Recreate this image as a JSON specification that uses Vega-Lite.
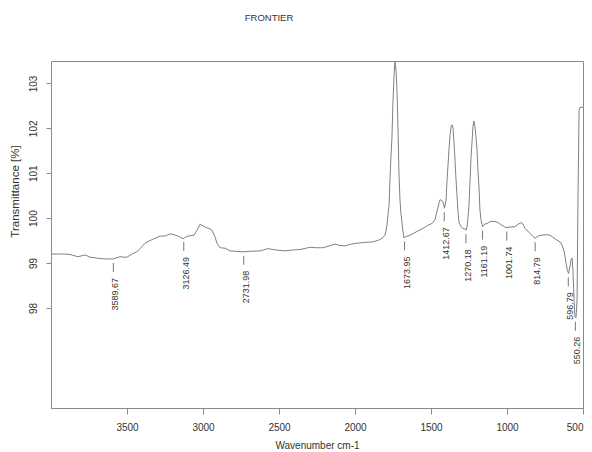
{
  "$schema": "https://vega.github.io/schema/vega-lite/v6.json",
  "autosize": {"type": "none"},
  "padding": {"left": 51, "top": 61, "right": 9, "bottom": 44},
  "width": 532,
  "height": 347,
  "background": "white",
  "config": {
    "font": "Liberation Sans",
    "view": {"stroke": "#8a8a8a", "strokeWidth": 1}
  },
  "title": {
    "text": "FRONTIER",
    "fontSize": 9.5,
    "fontWeight": "normal",
    "color": "#333333",
    "anchor": "middle",
    "dx": -48,
    "baseline": "alphabetic",
    "offset": 31
  },
  "datasets": {
    "spectrum": [
      {"wn": 4000, "t": 99.20}, {"wn": 3954, "t": 99.20}, {"wn": 3908, "t": 99.20}, {"wn": 3875, "t": 99.19},
      {"wn": 3855, "t": 99.17}, {"wn": 3822, "t": 99.14}, {"wn": 3776, "t": 99.18}, {"wn": 3743, "t": 99.13},
      {"wn": 3678, "t": 99.10}, {"wn": 3632, "t": 99.09}, {"wn": 3592, "t": 99.09}, {"wn": 3546, "t": 99.14},
      {"wn": 3520, "t": 99.13}, {"wn": 3500, "t": 99.13}, {"wn": 3467, "t": 99.20}, {"wn": 3441, "t": 99.24},
      {"wn": 3428, "t": 99.27}, {"wn": 3401, "t": 99.37}, {"wn": 3382, "t": 99.44}, {"wn": 3355, "t": 99.49},
      {"wn": 3329, "t": 99.53}, {"wn": 3303, "t": 99.57}, {"wn": 3283, "t": 99.60}, {"wn": 3250, "t": 99.60},
      {"wn": 3217, "t": 99.65}, {"wn": 3191, "t": 99.63}, {"wn": 3164, "t": 99.60}, {"wn": 3132, "t": 99.54},
      {"wn": 3118, "t": 99.57}, {"wn": 3099, "t": 99.60}, {"wn": 3059, "t": 99.62}, {"wn": 3039, "t": 99.73},
      {"wn": 3020, "t": 99.86}, {"wn": 3000, "t": 99.83}, {"wn": 2980, "t": 99.79}, {"wn": 2961, "t": 99.77},
      {"wn": 2941, "t": 99.73}, {"wn": 2921, "t": 99.58}, {"wn": 2908, "t": 99.44}, {"wn": 2888, "t": 99.34},
      {"wn": 2855, "t": 99.33}, {"wn": 2822, "t": 99.27}, {"wn": 2783, "t": 99.26}, {"wn": 2737, "t": 99.25},
      {"wn": 2691, "t": 99.26}, {"wn": 2625, "t": 99.27}, {"wn": 2572, "t": 99.32}, {"wn": 2520, "t": 99.29},
      {"wn": 2461, "t": 99.27}, {"wn": 2414, "t": 99.29}, {"wn": 2362, "t": 99.30}, {"wn": 2296, "t": 99.35},
      {"wn": 2257, "t": 99.34}, {"wn": 2211, "t": 99.34}, {"wn": 2171, "t": 99.38}, {"wn": 2132, "t": 99.42},
      {"wn": 2099, "t": 99.39}, {"wn": 2066, "t": 99.38}, {"wn": 2026, "t": 99.42}, {"wn": 1987, "t": 99.44},
      {"wn": 1934, "t": 99.46}, {"wn": 1882, "t": 99.47}, {"wn": 1855, "t": 99.50}, {"wn": 1836, "t": 99.52},
      {"wn": 1816, "t": 99.57}, {"wn": 1803, "t": 99.62}, {"wn": 1796, "t": 99.71}, {"wn": 1790, "t": 99.84},
      {"wn": 1783, "t": 100.07}, {"wn": 1776, "t": 100.29}, {"wn": 1770, "t": 100.84}, {"wn": 1763, "t": 101.40},
      {"wn": 1757, "t": 101.78}, {"wn": 1750, "t": 102.62}, {"wn": 1743, "t": 103.18}, {"wn": 1737, "t": 103.49},
      {"wn": 1730, "t": 103.29}, {"wn": 1724, "t": 102.89}, {"wn": 1717, "t": 101.96}, {"wn": 1711, "t": 101.02},
      {"wn": 1704, "t": 100.40}, {"wn": 1698, "t": 100.11}, {"wn": 1691, "t": 99.91}, {"wn": 1685, "t": 99.71},
      {"wn": 1678, "t": 99.56}, {"wn": 1665, "t": 99.59}, {"wn": 1638, "t": 99.62}, {"wn": 1599, "t": 99.69},
      {"wn": 1553, "t": 99.77}, {"wn": 1520, "t": 99.84}, {"wn": 1494, "t": 99.88}, {"wn": 1474, "t": 99.96},
      {"wn": 1461, "t": 100.14}, {"wn": 1448, "t": 100.33}, {"wn": 1441, "t": 100.40}, {"wn": 1434, "t": 100.41},
      {"wn": 1421, "t": 100.36}, {"wn": 1411, "t": 100.22}, {"wn": 1401, "t": 100.40}, {"wn": 1395, "t": 100.81},
      {"wn": 1388, "t": 101.18}, {"wn": 1382, "t": 101.51}, {"wn": 1375, "t": 101.84}, {"wn": 1368, "t": 102.04},
      {"wn": 1362, "t": 102.08}, {"wn": 1355, "t": 102.00}, {"wn": 1349, "t": 101.70}, {"wn": 1342, "t": 101.29},
      {"wn": 1336, "t": 100.89}, {"wn": 1329, "t": 100.51}, {"wn": 1322, "t": 100.13}, {"wn": 1316, "t": 99.91},
      {"wn": 1303, "t": 99.81}, {"wn": 1290, "t": 99.77}, {"wn": 1276, "t": 99.76}, {"wn": 1270, "t": 99.73},
      {"wn": 1263, "t": 99.80}, {"wn": 1257, "t": 100.00}, {"wn": 1250, "t": 100.29}, {"wn": 1243, "t": 100.84},
      {"wn": 1237, "t": 101.33}, {"wn": 1230, "t": 101.70}, {"wn": 1224, "t": 102.04}, {"wn": 1217, "t": 102.16},
      {"wn": 1211, "t": 102.04}, {"wn": 1204, "t": 101.80}, {"wn": 1197, "t": 101.51}, {"wn": 1191, "t": 101.07},
      {"wn": 1184, "t": 100.67}, {"wn": 1178, "t": 100.18}, {"wn": 1171, "t": 99.96}, {"wn": 1160, "t": 99.81},
      {"wn": 1145, "t": 99.87}, {"wn": 1132, "t": 99.88}, {"wn": 1112, "t": 99.92}, {"wn": 1092, "t": 99.93},
      {"wn": 1072, "t": 99.92}, {"wn": 1059, "t": 99.90}, {"wn": 1033, "t": 99.84}, {"wn": 1007, "t": 99.79},
      {"wn": 980, "t": 99.80}, {"wn": 947, "t": 99.81}, {"wn": 928, "t": 99.86}, {"wn": 908, "t": 99.90},
      {"wn": 895, "t": 99.87}, {"wn": 882, "t": 99.77}, {"wn": 862, "t": 99.71}, {"wn": 849, "t": 99.66},
      {"wn": 829, "t": 99.59}, {"wn": 816, "t": 99.55}, {"wn": 796, "t": 99.60}, {"wn": 770, "t": 99.62},
      {"wn": 743, "t": 99.63}, {"wn": 717, "t": 99.62}, {"wn": 697, "t": 99.57}, {"wn": 671, "t": 99.51},
      {"wn": 651, "t": 99.47}, {"wn": 638, "t": 99.40}, {"wn": 625, "t": 99.27}, {"wn": 618, "t": 99.14},
      {"wn": 612, "t": 99.00}, {"wn": 603, "t": 98.84}, {"wn": 595, "t": 98.77}, {"wn": 585, "t": 98.93},
      {"wn": 579, "t": 99.07}, {"wn": 572, "t": 99.11}, {"wn": 566, "t": 98.84}, {"wn": 559, "t": 98.18},
      {"wn": 553, "t": 97.80}, {"wn": 546, "t": 97.78}, {"wn": 539, "t": 98.18}, {"wn": 533, "t": 100.40},
      {"wn": 526, "t": 102.40}, {"wn": 520, "t": 102.47}, {"wn": 500, "t": 102.47}
    ],
    "peaks": [
      {"wn": 3589.67, "t": 99.09, "label": "3589.67"},
      {"wn": 3126.49, "t": 99.56, "label": "3126.49"},
      {"wn": 2731.98, "t": 99.25, "label": "2731.98"},
      {"wn": 1673.95, "t": 99.57, "label": "1673.95"},
      {"wn": 1412.67, "t": 100.22, "label": "1412.67"},
      {"wn": 1270.18, "t": 99.73, "label": "1270.18"},
      {"wn": 1161.19, "t": 99.81, "label": "1161.19"},
      {"wn": 1001.74, "t": 99.79, "label": "1001.74"},
      {"wn": 814.79, "t": 99.55, "label": "814.79"},
      {"wn": 596.79, "t": 98.77, "label": "596.79"},
      {"wn": 550.26, "t": 97.78, "label": "550.26"}
    ]
  },
  "layer": [
    {
      "data": {"name": "spectrum"},
      "mark": {"type": "line", "color": "#808080", "strokeWidth": 1, "clip": true, "interpolate": "linear"},
      "encoding": {
        "x": {
          "field": "wn", "type": "quantitative",
          "scale": {"domain": [500, 4000], "reverse": true, "nice": false, "zero": false},
          "axis": {
            "title": "Wavenumber cm-1",
            "values": [3500, 3000, 2500, 2000, 1500, 1000, 500],
            "format": "d",
            "grid": false,
            "domainColor": "#8a8a8a", "tickColor": "#8a8a8a", "tickSize": 6,
            "labelFontSize": 10, "labelColor": "#333333", "labelPadding": 8,
            "titleFontSize": 10, "titleFontWeight": "normal", "titleColor": "#333333",
            "titleX": 266, "titlePadding": 8
          }
        },
        "y": {
          "field": "t", "type": "quantitative",
          "scale": {"domain": [95.77, 103.5], "nice": false, "zero": false},
          "axis": {
            "title": "Transmittance [%]",
            "values": [98, 99, 100, 101, 102, 103],
            "grid": false,
            "domainColor": "#8a8a8a", "tickColor": "#8a8a8a", "tickSize": 5,
            "labelFontSize": 10, "labelColor": "#333333", "labelAngle": 270,
            "labelAlign": "center", "labelBaseline": "bottom", "labelPadding": 8,
            "titleFontSize": 11.5, "titleFontWeight": "normal", "titleColor": "#333333",
            "titleY": 130, "titleX": -31, "titleAngle": 270, "titleAlign": "center", "titleBaseline": "bottom"
          }
        }
      }
    },
    {
      "data": {"name": "peaks"},
      "mark": {"type": "rule", "color": "#777777", "strokeWidth": 1, "yOffset": 4, "y2Offset": 13},
      "encoding": {
        "x": {"field": "wn", "type": "quantitative"},
        "y": {"field": "t", "type": "quantitative"},
        "y2": {"field": "t"}
      }
    },
    {
      "data": {"name": "peaks"},
      "mark": {"type": "text", "angle": 270, "align": "right", "baseline": "middle", "dy": 2, "yOffset": 19, "fontSize": 9, "color": "#333333"},
      "encoding": {
        "x": {"field": "wn", "type": "quantitative"},
        "y": {"field": "t", "type": "quantitative"},
        "text": {"field": "label"}
      }
    }
  ]
}
